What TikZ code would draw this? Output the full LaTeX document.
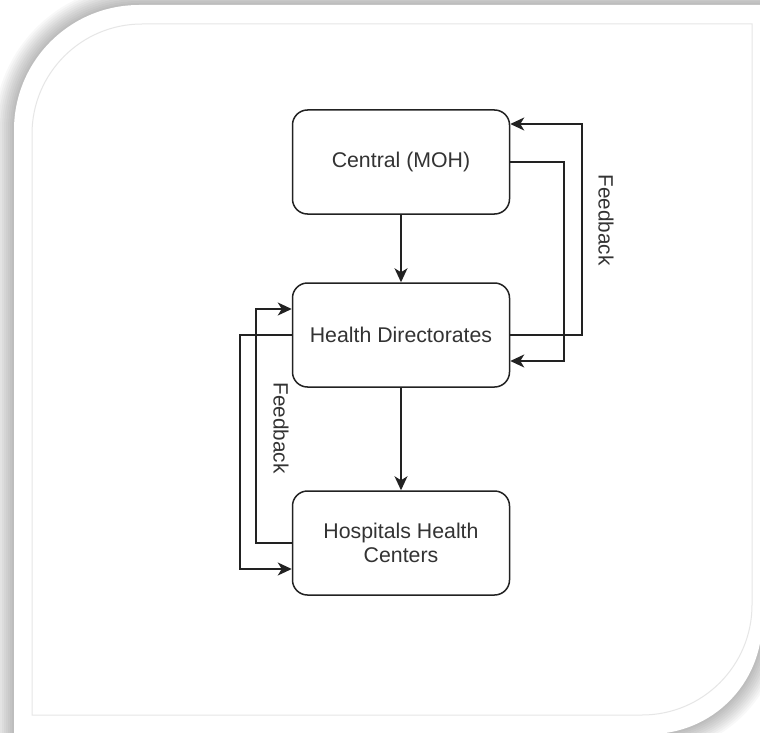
\documentclass[tikz,border=0pt]{standalone}
\usepackage{fontspec}
\setmainfont{Liberation Sans}
\usetikzlibrary{arrows.meta}
\definecolor{linec}{HTML}{222222}
\definecolor{textc}{HTML}{333333}
\definecolor{framec}{HTML}{E6E6E6}
\tikzset{
  box/.style={draw=linec, line width=1.5pt, rounded corners=15pt, fill=white,
    minimum width=217pt, minimum height=104pt, inner sep=0pt, align=center,
    text=textc, font=\fontsize{21.3}{24}\selectfont},
  conn/.style={draw=linec, line width=1.5pt, -{Stealth[length=14pt,width=13pt,inset=4pt]}},
  fb/.style={rotate=-90, inner sep=0pt, text=textc, font=\fontsize{20.7}{24}\selectfont},
  shadowlayer/.style={draw=black, opacity=0.026, line join=round},
}
\begin{document}
\begin{tikzpicture}[x=1pt,y=-1pt]
\useasboundingbox (0,0) rectangle (760,733);
\clip (0,0) rectangle (760,733);
\fill[white] (0,0) rectangle (760,733);
% card shadow (blurred glow)
\foreach \w in {4,8,...,40}{
  \draw[shadowlayer, line width=\w pt] (14,734) -- (14,130) arc[start angle=180,end angle=90,radius=125pt]
     -- (762,5) -- (762,622) arc[start angle=0,end angle=-90,radius=112pt] -- cycle;
}
% card
\fill[white] (14,734) -- (14,130) arc[start angle=180,end angle=90,radius=125pt]
     -- (762,5) -- (762,622) arc[start angle=0,end angle=-90,radius=112pt] -- cycle;
% inner frame line
\draw[framec, line width=1pt] (32,715) -- (32,134) arc[start angle=180,end angle=90,radius=110pt]
     -- (752,24) -- (752,605) arc[start angle=0,end angle=-90,radius=110pt] -- cycle;
% boxes
\node[box] (C) at (401,162) {Central (MOH)};
\node[box] (H) at (401,335) {Health Directorates};
\node[box] (S) at (401,543) {Hospitals Health\\Centers};
% bend points
\coordinate (ro) at (582,124);
\coordinate (ri) at (564,361);
\coordinate (li) at (256,309);
\coordinate (lo) at (240,569);
% connectors
\draw[conn] (C) -- (H);
\draw[conn] (H) -- (S);
\draw[conn] (H.east) -| (ro) -- (C.east |- ro);
\draw[conn] (C.east) -| (ri) -- (H.east |- ri);
\draw[conn] (S.west) -| (li) -- (H.west |- li);
\draw[conn] (H.west) -| (lo) -- (S.west |- lo);
% labels
\node[fb] (fr) at (606,220) {Feedback};
\node[fb] (fl) at (281,428) {Feedback};
\end{tikzpicture}
\end{document}
